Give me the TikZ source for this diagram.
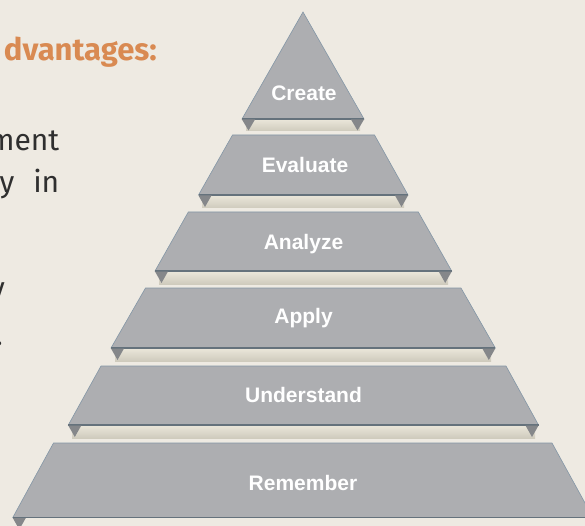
\documentclass[tikz,border=0pt]{standalone}
\usepackage{fontspec}
\setmainfont{Liberation Sans}
\newfontfamily\slidefont{Fira Sans}
\usetikzlibrary{positioning}

\definecolor{paper}{HTML}{EEEAE2}
\definecolor{stone}{HTML}{ADAEB1}
\definecolor{rim}{HTML}{8396A6}
\definecolor{rimdark}{HTML}{65727C}
\definecolor{flapgray}{HTML}{85878A}
\definecolor{creamtop}{HTML}{EBE7DB}
\definecolor{creambot}{HTML}{CFCBBD}
\definecolor{accent}{HTML}{D98A52}
\definecolor{ink}{HTML}{2F2F2F}

\begin{document}
\begin{tikzpicture}[
    x=1pt, y=-1pt,
    layer/.style={fill=stone, draw=rim, line width=0.6pt, line join=miter},
    ledge/.style={draw=rimdark, line width=1.2pt},
    band/.style={top color=creamtop, bottom color=creambot, draw=none},
    flap/.style={fill=flapgray, draw=none},
    levellabel/.style={font=\fontsize{21}{21}\selectfont\bfseries, text=white, anchor=base, inner sep=0pt},
    sidetext/.style={font=\slidefont\fontsize{30}{30}\selectfont, text=ink, anchor=base east, inner sep=0pt},
    headtext/.style={font=\slidefont\fontsize{31}{31}\selectfont\bfseries, text=accent, anchor=base east, inner sep=0pt}
]

\fill[paper] (0,0) rectangle (585,526);
\useasboundingbox (0,0) rectangle (585,526);
\clip (0,0) rectangle (585,526);

% text cut off on the left
\node[headtext] (head) at (157,61) {dvantages:};
\node[sidetext] (lineone) at (59.5,151) {ment};
\node[sidetext] (linetwo) at (59.5,193) {y\hspace{19pt}in};
\node[sidetext] (linethree) at (5,298) {y};
\node[sidetext] (linefour) at (3,345) {.};

% bands under each layer
\fill[band] (246,119) rectangle (360,131);
\fill[band] (202,195) rectangle (404,208);
\fill[band] (159,271) rectangle (448,284);
\fill[band] (115,348) rectangle (491,361);
\fill[band] (72,425) rectangle (535,438);

% layers
\fill[layer] (303,12) -- (364,119) -- (242,119) -- cycle;
\draw[ledge] (242,119) -- (364,119);

\fill[layer] (232.5,135) -- (374.5,135) -- (408,195) -- (198.5,195) -- cycle;
\draw[ledge] (198.5,195) -- (408,195);

\fill[layer] (188.3,212) -- (418.3,212) -- (451.7,271) -- (155,271) -- cycle;
\draw[ledge] (155,271) -- (451.7,271);

\fill[layer] (145.5,288) -- (461,288) -- (495.3,348) -- (111,348) -- cycle;
\draw[ledge] (111,348) -- (495.3,348);

\fill[layer] (101,366) -- (506,366) -- (538.5,425) -- (68.3,425) -- cycle;
\draw[ledge] (68.3,425) -- (538.5,425);

\fill[layer] (53.5,443) -- (552,443) -- (593,517.5) -- (12.8,517.5) -- cycle;
\draw[ledge] (12.8,517.5) -- (593,517.5);

% corner flaps
\fill[flap] (242,119.5) -- (255,119.5) -- (248.5,130.5) -- cycle;
\fill[flap] (351,119.5) -- (364,119.5) -- (357.5,130.5) -- cycle;
\fill[flap] (198.5,195.5) -- (211.5,195.5) -- (205,207) -- cycle;
\fill[flap] (395,195.5) -- (408,195.5) -- (401.5,207) -- cycle;
\fill[flap] (155,271.5) -- (168,271.5) -- (161.5,283) -- cycle;
\fill[flap] (438.7,271.5) -- (451.7,271.5) -- (445.2,283) -- cycle;
\fill[flap] (111,348.5) -- (124,348.5) -- (117.5,360) -- cycle;
\fill[flap] (482.3,348.5) -- (495.3,348.5) -- (488.8,360) -- cycle;
\fill[flap] (68.3,425.5) -- (81.3,425.5) -- (74.8,437) -- cycle;
\fill[flap] (525.5,425.5) -- (538.5,425.5) -- (532,437) -- cycle;
\fill[flap] (12.8,518) -- (25.8,518) -- (19.3,529.5) -- cycle;

% level names
\node[levellabel] (create) at (304,101) {Create};
\node[levellabel] (evaluate) at (305,172.6) {Evaluate};
\node[levellabel] (analyze) at (303.5,249) {Analyze};
\node[levellabel] (apply) at (303.5,323.5) {Apply};
\node[levellabel] (understand) at (303.5,402) {Understand};
\node[levellabel] (remember) at (303,490) {Remember};

\end{tikzpicture}
\end{document}
